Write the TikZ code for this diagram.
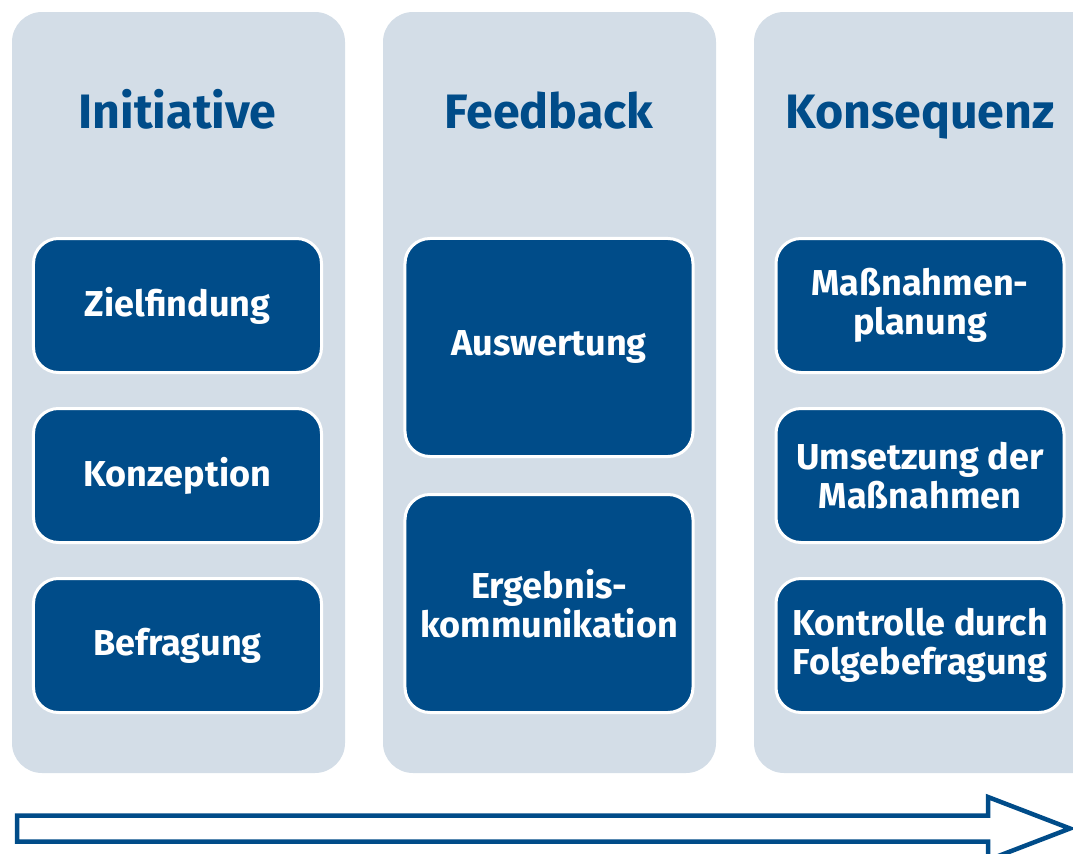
\documentclass[tikz,border=0pt]{standalone}
\usepackage{fontspec}
\setmainfont{Fira Sans}
\usepackage{xcolor}
\definecolor{colbg}{HTML}{D3DDE7}
\definecolor{darkblue}{HTML}{004C89}
\tikzset{>=stealth}

\begin{document}
\begin{tikzpicture}[x=0.2mm,y=-0.2mm,
    column/.style={fill=colbg,rounded corners=6mm},
    heading/.style={anchor=base,text=darkblue,font=\fontsize{27.5}{30}\selectfont\bfseries},
    phase/.style={fill=darkblue,draw=white,line width=0.6mm,rounded corners=5mm,
      text=white,align=center,minimum width=57.6mm,inner sep=0pt,
      font=\fontsize{20.5}{22.5}\selectfont\bfseries},
    small/.style={phase,minimum height=26.8mm},
    large/.style={phase,minimum height=43.6mm}]
      \useasboundingbox (0,0) rectangle (1073,854);
      \clip (0,0) rectangle (1073,854);

      % columns
      \fill[column] (12,12) rectangle (345,773);
      \fill[column] (383,12) rectangle (716,773);
      \fill[column] (754,12) rectangle (1110,773);

      \node[heading] (initiative) at (177.5,128) {Initiative};
      \node[heading] (feedback) at (549,128) {Feedback};
      \node[heading] (konsequenz) at (920,128) {Konsequenz};

      \node[small] (ziel) at (177.5,305.5) {Zielfindung};
      \node[small] (konz) at (177.5,475.5) {Konzeption};
      \node[small] (befr) at (177.5,645.5) {Befragung};

      \node[large] (ausw) at (549,347.5) {Auswertung};
      \node[large] (komm) at (549,603.5) {Ergebnis-\\kommunikation};

      \node[small] (plan) at (920,305.5) {Maßnahmen-\\planung};
      \node[small] (ums) at (920,475.5) {Umsetzung der\\Maßnahmen};
      \node[small] (kontr) at (920,645.5) {Kontrolle durch\\Folgebefragung};

      % time arrow
      \draw[darkblue,line width=0.9mm,line join=miter,fill=white]
        (17,815.5) -- (988,815.5) -- (988,797) -- (1070,828.5)
        -- (988,860) -- (988,841.5) -- (17,841.5) -- cycle;
\end{tikzpicture}
\end{document}
